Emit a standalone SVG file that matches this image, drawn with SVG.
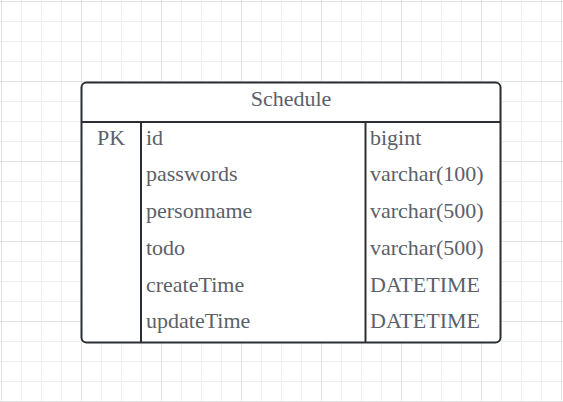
<svg xmlns="http://www.w3.org/2000/svg" width="563" height="402" viewBox="0 0 563 402">
  <defs>
    <pattern id="minor" x="1" y="1" width="20" height="20" patternUnits="userSpaceOnUse">
      <path d="M0 0.5H20M0.5 0V20" fill="none" stroke="#eeeeee" stroke-width="1"/>
    </pattern>
    <pattern id="major" x="1" y="1" width="80" height="80" patternUnits="userSpaceOnUse">
      <path d="M0 0.5H80M0.5 0V80" fill="none" stroke="#e2e2e2" stroke-width="1"/>
    </pattern>
  </defs>
  <style>
    .b { fill: none; stroke: #2b2f34; stroke-width: 2; }
  </style>
  <rect x="0" y="0" width="563" height="402" fill="#ffffff"/>
  <rect x="0" y="0" width="563" height="402" fill="url(#minor)"/>
  <rect x="0" y="0" width="563" height="402" fill="url(#major)"/>
  <g id="schedule">
    <rect x="81.5" y="82.5" width="419" height="260" rx="5" ry="5" fill="#ffffff" stroke="#2b2f34" stroke-width="2"/>
    <line class="b" x1="81.5" y1="122" x2="500.5" y2="122"/>
    <line class="b" x1="141" y1="122" x2="141" y2="342.5"/>
    <line class="b" x1="365.5" y1="122" x2="365.5" y2="342.5"/>
    <g font-family="Liberation Serif, Times New Roman, serif" font-size="22" fill="#5b606a">
      <text x="291" y="106" text-anchor="middle">Schedule</text>
      <text x="97" y="144.5">PK</text>
      <text x="146" y="144.5">id</text>
      <text x="370" y="144.5">bigint</text>
      <text x="146" y="181.3">passwords</text>
      <text x="370" y="181.3">varchar(100)</text>
      <text x="146" y="218">personname</text>
      <text x="370" y="218">varchar(500)</text>
      <text x="146" y="254.8">todo</text>
      <text x="370" y="254.8">varchar(500)</text>
      <text x="146" y="291.6">createTime</text>
      <text x="370" y="291.6">DATETIME</text>
      <text x="146" y="328.4">updateTime</text>
      <text x="370" y="328.4">DATETIME</text>
    </g>
  </g>
  <g id="connectors"/>
</svg>
